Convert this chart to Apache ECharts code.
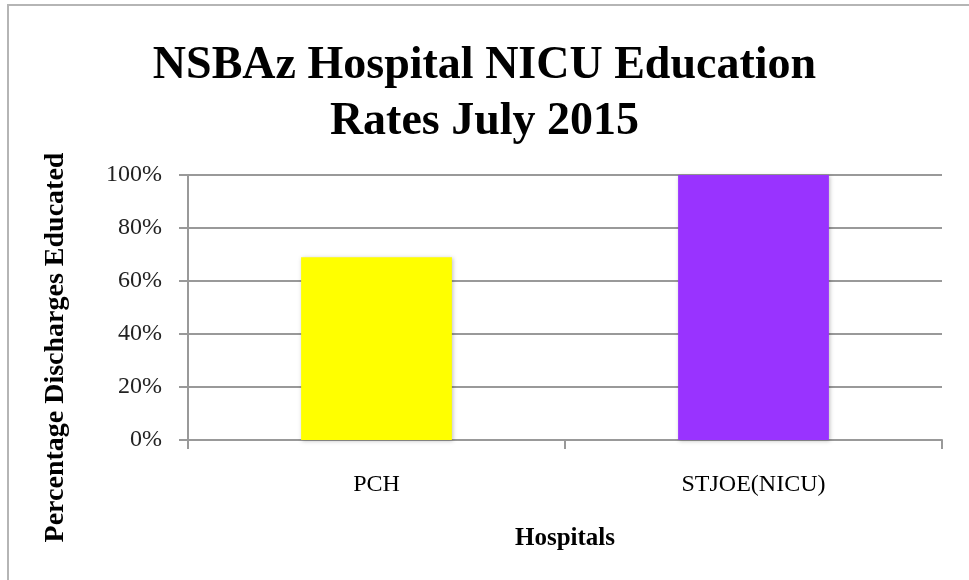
<!DOCTYPE html>
<html><head><meta charset="utf-8">
<script src="https://cdn.jsdelivr.net/npm/echarts@6/dist/echarts.min.js"></script>
<style>
html,body{margin:0;padding:0;background:#fff;}
#frame{position:absolute;left:7px;top:4px;width:962px;height:576px;border-top:2px solid #b5b5b5;border-left:2px solid #b5b5b5;}
#c{position:absolute;left:0;top:0;width:969px;height:580px;}
</style></head>
<body>
<div id="frame"></div>
<div id="c"></div>
<script>
const categories = ['PCH', 'STJOE(NICU)'];
const values = [69, 100];
const colors = ['#FFFF00', '#9933FF'];
const titleLines = 'NSBAz Hospital NICU Education\nRates July 2015';
const yName = 'Percentage Discharges Educated';
const xName = 'Hospitals';

const chart = echarts.init(document.getElementById('c'), null, {renderer:'canvas'});
const serif = '"Liberation Serif", "DejaVu Serif", serif';
chart.setOption({
  animation:false,
  backgroundColor:'transparent',
  title:{
    text:titleLines, left:'center', top:33,
    textStyle:{fontFamily:serif, fontWeight:'bold', fontSize:46, lineHeight:56, color:'#000'}
  },
  grid:{left:188, right:27, top:175, bottom:140, containLabel:false},
  xAxis:{
    type:'category', data:categories,
    name:xName, nameLocation:'middle', nameGap:86,
    nameTextStyle:{fontFamily:serif, fontWeight:'bold', fontSize:25, color:'#000'},
    axisLine:{lineStyle:{color:'#999', width:2}},
    axisTick:{show:true, length:9, lineStyle:{color:'#999', width:2}},
    axisLabel:{fontFamily:serif, fontSize:24, color:'#000', margin:33}
  },
  yAxis:{
    type:'value', min:0, max:100, interval:20,
    name:yName, nameLocation:'middle', nameGap:118, nameRotate:90,
    nameTextStyle:{fontFamily:serif, fontWeight:'bold', fontSize:28, color:'#000', padding:[0,80,0,0]},
    axisLine:{show:true, lineStyle:{color:'#999', width:2}},
    axisTick:{show:true, length:9, lineStyle:{color:'#999', width:2}},
    axisLabel:{fontFamily:serif, fontSize:24, color:'#222', margin:26, formatter:'{value}%'},
    splitLine:{lineStyle:{color:'#999', width:2}}
  },
  series:[{
    type:'bar', data:values.map((v,i)=>({value:v, itemStyle:{color:colors[i]}})),
    barWidth:'40%',
    itemStyle:{shadowColor:'rgba(0,0,0,0.25)', shadowBlur:4, shadowOffsetX:1, shadowOffsetY:1}
  }]
});
</script>
</body></html>
